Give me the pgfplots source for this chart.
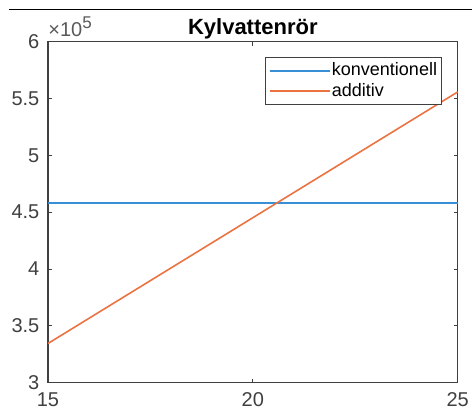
\documentclass[border=0pt]{standalone}
\usepackage{fontspec}
\setmainfont{Liberation Sans}
\usepackage{pgfplots}
\pgfplotsset{compat=1.18}
\definecolor{mblue}{rgb}{0.22,0.56,0.84}
\definecolor{morange}{rgb}{0.92,0.45,0.26}
\definecolor{axgray}{rgb}{0.25,0.25,0.25}
\begin{document}
\begin{tikzpicture}
\begin{axis}[
  scale only axis,
  width=204.85pt, height=170.5pt,
  xmin=15, xmax=25, ymin=300000, ymax=600000,
  xtick={15,20,25},
  ytick={300000,350000,400000,450000,500000,550000,600000},
  yticklabels={3,3.5,4,4.5,5,5.5,6},
  scaled y ticks=false,
  /pgf/number format/assume math mode=true,
  tick align=inside,
  major tick length=2pt,
  tick style={axgray, line width=0.5pt},
  axis line style={axgray, line width=0.6pt},
  ticklabel style={font=\fontsize{10}{12}\selectfont, text=black!75},
  xticklabel style={yshift=-1.5pt},
  yticklabel style={xshift=-0.8pt},
  title={Kylvattenrör},
  title style={at={(0.5,1)}, anchor=base, yshift=-2.5pt, font=\bfseries\fontsize{11}{13}\selectfont},
  legend style={at={(0.962,0.955)}, anchor=north east, draw=axgray, line width=0.5pt,
    font=\fontsize{9}{10}\selectfont, inner sep=1.5pt,
    nodes={inner sep=0.8pt, text height=6.8pt, text depth=1.8pt}, row sep=0pt},
  legend cell align=left,
  legend image code/.code={\draw[#1] (0pt,0pt) -- (30pt,0pt);},
  clip=false,
]
\addplot[draw=mblue, line width=0.8pt] coordinates {(15,457900) (25,457900)};
\addlegendentry{konventionell}
\addplot[draw=morange, line width=0.8pt] coordinates {(15,334500) (25,555800)};
\addlegendentry{additiv}
\node[anchor=south west, inner sep=0pt, font=\fontsize{10}{12}\selectfont, text=black!65] at (rel axis cs:0,1) [yshift=2.2pt] {×10\raisebox{0.42em}{\fontsize{8.5}{10}\selectfont 5}};
\end{axis}
\draw[black, line width=0.8pt] (-19.5pt,186.6pt) -- (212pt,186.6pt);
\pgfresetboundingbox
\useasboundingbox (-24pt,-14.65pt) rectangle (212pt,191.35pt);
\end{tikzpicture}
\end{document}
